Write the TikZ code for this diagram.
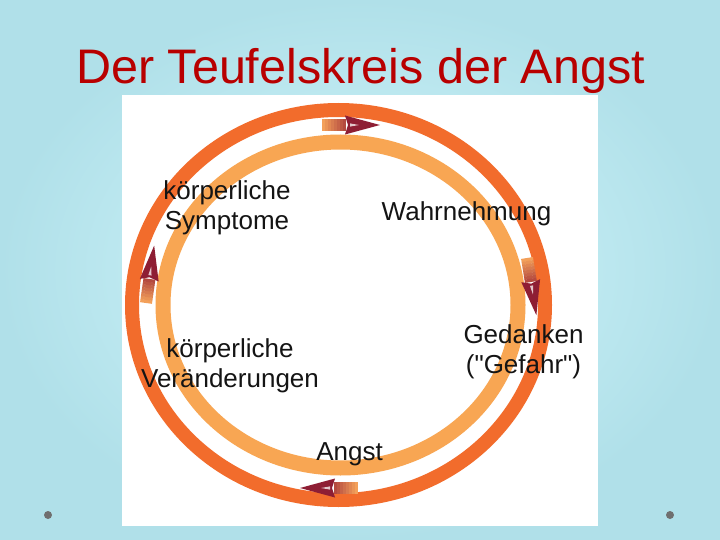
\documentclass[tikz,border=0pt]{standalone}
\usepackage{fontspec}
\setmainfont{Liberation Sans}[Ligatures=TeXOff]
\definecolor{bgin}{HTML}{D4F7FC}
\definecolor{bgout}{HTML}{B0E0E9}
\definecolor{titlered}{HTML}{B80000}
\definecolor{outerring}{HTML}{F26C2C}
\definecolor{innerring}{HTML}{F8A653}
\definecolor{arrowdark}{HTML}{8E1E34}
\definecolor{taillight}{HTML}{F3A05A}
\definecolor{taildark}{HTML}{A83A3A}
\definecolor{labeltext}{HTML}{141414}
\definecolor{dotgray}{HTML}{6F6F6F}
\begin{document}
\begin{tikzpicture}[x=1pt,y=-1pt,
  lbl/.style={font=\fontsize{26}{30}\selectfont, text=labeltext, inner sep=0pt, align=center},
  cyclearrow/.pic={
    \foreach \k in {0,...,7} {
      \pgfmathtruncatemacro\mix{100-\k*12}
      \fill[taillight!\mix!taildark] (\k*3,-6) rectangle (\k*3+3.3,6);
    }
    \fill[arrowdark] (23,-9.5) -- (58,0) -- (23,9.5) -- (26,0) -- cycle;
    \fill[white!75!arrowdark] (28,-1.6) -- (37,0) -- (28,1.6) -- cycle;
  }]
\useasboundingbox (0,0) rectangle (720,540);
\shade[inner color=bgin, outer color=bgout] (0,0) rectangle (720,540);
\fill[white] (122,95) rectangle (598,526);
% rings
\draw[outerring, line width=14pt] (338.5,305) ellipse [x radius=206.5pt, y radius=195pt];
\draw[innerring, line width=15pt] (340.5,305) ellipse [x radius=177.5pt, y radius=163pt];
% direction arrows
\pic[rotate=0] at (322,125) {cyclearrow};
\pic[rotate=-80.7] at (527,258) {cyclearrow};
\pic[rotate=180] at (358,488) {cyclearrow};
\pic[rotate=81.9] at (146,303) {cyclearrow};
% labels
\node[lbl, anchor=north] (symptome) at (227,180) {körperliche\\Symptome};
\node[lbl, anchor=base] (wahr) at (466.5,221) {Wahrnehmung};
\node[lbl, anchor=north] (gedanken) at (523.5,324) {Gedanken\\("Gefahr")};
\node[lbl, anchor=north] (veraend) at (230,338) {körperliche\\Veränderungen};
\node[lbl, anchor=base] (angst) at (349.5,460) {Angst};
% title
\node[font=\fontsize{48.5}{58}\selectfont, text=titlered, anchor=base west, inner sep=0pt] (title) at (76,84) {Der Teufelskreis der Angst};
% bullets
\fill[dotgray] (48,515) circle [radius=4pt];
\fill[dotgray] (670,515) circle [radius=4pt];
\end{tikzpicture}
\end{document}
